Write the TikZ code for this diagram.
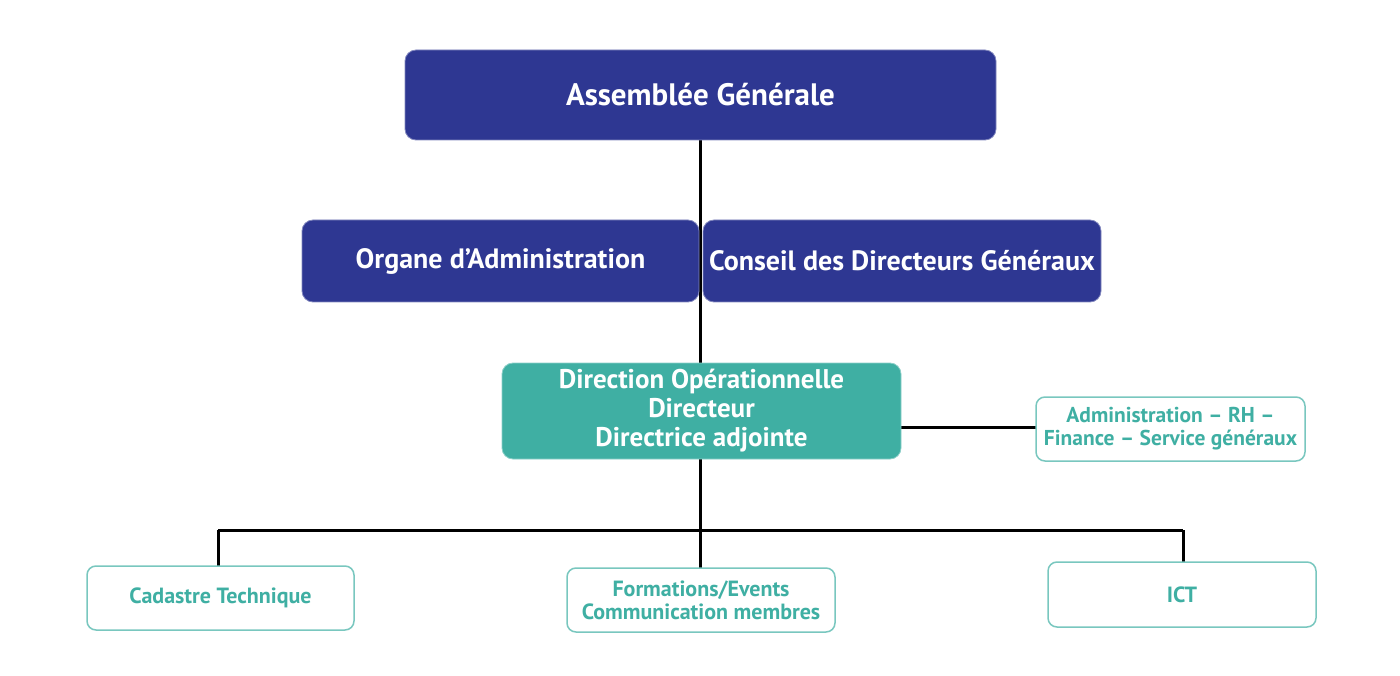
\documentclass[tikz,border=0pt]{standalone}
\usepackage{fontspec}
\setmainfont{PT Sans}
\definecolor{navy}{HTML}{2E3792}
\definecolor{teal1}{HTML}{3FAFA3}
\begin{document}
\begin{tikzpicture}[x=1pt,y=-1pt,
  navybox/.style={fill=navy,draw=navy!60,line width=0.8pt,rounded corners=11pt,text=white,font=\bfseries,align=center,inner sep=0pt},
  tealbox/.style={fill=teal1,draw=teal1!60,line width=0.8pt,rounded corners=11pt,text=white,font=\bfseries,align=center,inner sep=0pt},
  whitebox/.style={fill=white,draw=teal1!70,line width=1.5pt,rounded corners=9pt,text=teal1,font=\bfseries,align=center,inner sep=0pt},
  link/.style={line width=3pt,black}]
\useasboundingbox (0,0) rectangle (1400,676);
% connectors drawn first
\coordinate (busL) at (218,530);
\coordinate (busC) at (700,530);
\coordinate (busR) at (1183,530);
\draw[link] (700,140) -- (700,363);
\draw[link] (700,459) -- (busC);
\draw[link] (busL) -- (busR);
\draw[link] (busL) -- (218,566);
\draw[link] (busC) -- (700,568);
\draw[link] (busR) -- (1183,562);
\draw[link] (901,427) -- (1036,427);
% boxes
\node[navybox,minimum width=591pt,minimum height=90pt,font=\fontsize{31}{36}\selectfont\bfseries] (ag) at (700.5,95) {Assemblée Générale};
\node[navybox,minimum width=397pt,minimum height=82pt,font=\fontsize{28}{33}\selectfont\bfseries] (org) at (500.5,261) {Organe d’Administration};
\node[navybox,minimum width=398pt,minimum height=82pt,font=\fontsize{28}{33}\selectfont\bfseries] (cons) at (902,261) {Conseil des Directeurs Généraux};
\node[tealbox,minimum width=399pt,minimum height=96pt,font=\fontsize{27}{29}\selectfont\bfseries] (dir) at (701.5,411) {Direction Opérationnelle\\Directeur\\Directrice adjointe};
\node[whitebox,minimum width=269pt,minimum height=64pt,font=\fontsize{21.5}{23}\selectfont\bfseries] (adm) at (1170.5,429) {Administration – RH –\\Finance – Service généraux};
\node[whitebox,minimum width=267pt,minimum height=64pt,font=\fontsize{22}{23}\selectfont\bfseries] (cad) at (220.5,598) {Cadastre Technique};
\node[whitebox,minimum width=268pt,minimum height=64pt,font=\fontsize{22}{23}\selectfont\bfseries] (form) at (701,600) {Formations/Events\\Communication membres};
\node[whitebox,minimum width=268pt,minimum height=65pt,font=\fontsize{22}{23}\selectfont\bfseries] (ict) at (1182,594.5) {ICT};
\end{tikzpicture}
\end{document}
